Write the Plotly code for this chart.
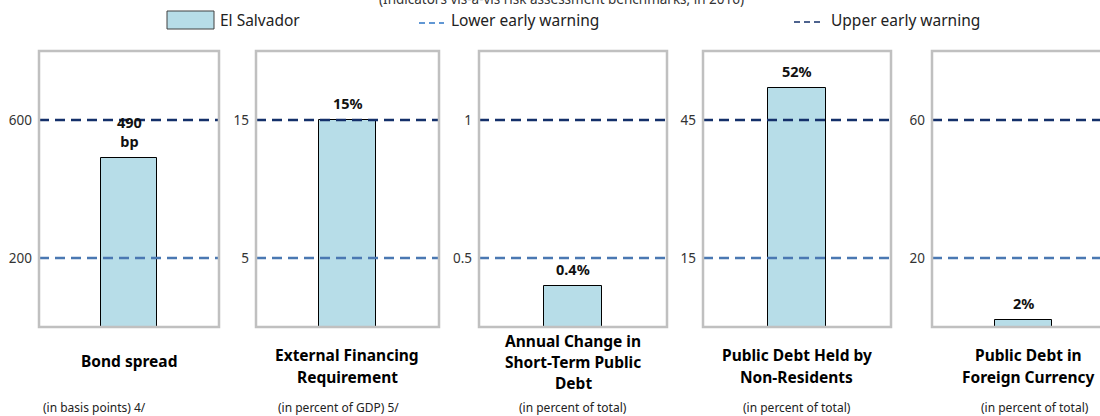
import plotly.graph_objects as go

# ---- data ----
title_lines = [
    ["Bond spread"],
    ["External Financing", "Requirement"],
    ["Annual Change in", "Short-Term Public", "Debt"],
    ["Public Debt Held by", "Non-Residents"],
    ["Public Debt in", "Foreign Currency"],
]
unit_labels = [
    "(in basis points) 4/",
    "(in percent of GDP) 5/",
    "(in percent of total)",
    "(in percent of total)",
    "(in percent of total)",
]
values = [490, 15, 0.4, 52, 2]
value_labels = ["490<br>bp", "15%", "0.4%", "52%", "2%"]
lower_warning = [200, 5, 0.5, 15, 20]
upper_warning = [600, 15, 1, 45, 60]
y_ranges = [(0, 800), (0, 20), (0.25, 1.25), (0, 60), (0, 80)]
tick_text = [["200", "600"], ["5", "15"], ["0.5", "1"], ["15", "45"], ["20", "60"]]

# ---- layout constants (pixels) ----
W, H = 1100, 416
panel_x = [(39, 219), (256, 439), (479, 667), (703, 891), (932, 1115)]
panel_top, panel_bottom = 51, 327
title_x = [129, 347, 573, 797, 1028]
unit_x = [94, 338, 573, 797, 1035]

FONT = "Noto Sans"
BAR_FILL = "#B7DDE8"
UPPER = "#14306A"
LOWER = "#4A78B2"
FRAME = "#C0C0C0"


def px(x):
    return x / W


def py(y):
    return 1 - y / H


fig = go.Figure()
shapes = []
annotations = []

for i in range(5):
    n = "" if i == 0 else str(i + 1)
    xa, ya = "x" + n, "y" + n
    left, right = panel_x[i]
    full_w = right - left
    vis_right = min(right, W)
    x_max = (vis_right - left) / full_w

    # bar
    fig.add_trace(go.Bar(
        x=[0.5], y=[values[i]], width=0.31,
        marker=dict(color=BAR_FILL, line=dict(color="#000000", width=1)),
        xaxis=xa, yaxis=ya, showlegend=False, hoverinfo="skip",
    ))
    # early warning thresholds
    fig.add_trace(go.Scatter(
        x=[0, 1], y=[lower_warning[i]] * 2, mode="lines",
        line=dict(color=LOWER, width=2.5, dash="10px,6px"),
        xaxis=xa, yaxis=ya, showlegend=False, hoverinfo="skip",
    ))
    fig.add_trace(go.Scatter(
        x=[0, 1], y=[upper_warning[i]] * 2, mode="lines",
        line=dict(color=UPPER, width=2.5, dash="10px,6px"),
        xaxis=xa, yaxis=ya, showlegend=False, hoverinfo="skip",
    ))

    fig.layout["xaxis" + n] = dict(
        domain=[px(left), px(vis_right)], range=[0, x_max],
        showgrid=False, zeroline=False, showticklabels=False,
        fixedrange=True, anchor=ya,
    )
    fig.layout["yaxis" + n] = dict(
        domain=[py(panel_bottom), py(panel_top)], range=list(y_ranges[i]),
        showgrid=False, zeroline=False,
        tickmode="array",
        tickvals=[lower_warning[i], upper_warning[i]],
        ticktext=tick_text[i],
        tickfont=dict(family=FONT, size=13.5, color="#333333"),
        ticks="", ticklabelstandoff=6,
        fixedrange=True, anchor=xa,
    )

    # panel frame
    shapes.append(dict(
        type="rect", xref="paper", yref="paper",
        x0=px(left), x1=px(right), y0=py(panel_bottom), y1=py(panel_top),
        line=dict(color=FRAME, width=2.5), layer="above",
    ))

    # value label above bar
    annotations.append(dict(
        xref=xa, yref=ya, x=0.5, y=values[i], text="<b>" + value_labels[i] + "</b>",
        showarrow=False, yanchor="bottom", yshift=5,
        font=dict(family=FONT, size=14.5, color="#111111"),
    ))

    # panel title lines
    lines = title_lines[i]
    if len(lines) == 1:
        ys = [361]
    elif len(lines) == 2:
        ys = [355, 377]
    else:
        ys = [341, 362, 383]
    for line, yy in zip(lines, ys):
        annotations.append(dict(
            xref="paper", yref="paper", x=px(title_x[i]), y=py(yy),
            text="<b>" + line + "</b>", showarrow=False,
            xanchor="center", yanchor="middle",
            font=dict(family=FONT, size=15.5, color="#000000"),
        ))
    annotations.append(dict(
        xref="paper", yref="paper", x=px(unit_x[i]), y=py(407),
        text=unit_labels[i], showarrow=False,
        xanchor="center", yanchor="middle",
        font=dict(family=FONT, size=12, color="#222222"),
    ))

# top subtitle (runs past the top edge of the page)
annotations.append(dict(
    xref="paper", yref="paper", x=px(561), y=py(-1),
    text="(Indicators vis-à-vis risk assessment benchmarks, in 2016)",
    showarrow=False, xanchor="center", yanchor="middle",
    font=dict(family=FONT, size=13.5, color="#333333"),
))

# legend
shapes.append(dict(
    type="rect", xref="paper", yref="paper",
    x0=px(167), x1=px(214), y0=py(29), y1=py(11),
    fillcolor=BAR_FILL, line=dict(color="#404040", width=1),
))
annotations.append(dict(
    xref="paper", yref="paper", x=px(218), y=py(20), text="El Salvador",
    showarrow=False, xanchor="left", yanchor="middle",
    font=dict(family=FONT, size=15.5, color="#222222"),
))
shapes.append(dict(
    type="line", xref="paper", yref="paper",
    x0=px(419), x1=px(444), y0=py(23), y1=py(23),
    line=dict(color="#2E75C6", width=1.5, dash="6px,4px"),
))
annotations.append(dict(
    xref="paper", yref="paper", x=px(449), y=py(20), text="Lower early warning",
    showarrow=False, xanchor="left", yanchor="middle",
    font=dict(family=FONT, size=15.5, color="#222222"),
))
shapes.append(dict(
    type="line", xref="paper", yref="paper",
    x0=px(794), x1=px(822), y0=py(22), y1=py(22),
    line=dict(color=UPPER, width=1.5, dash="6px,4px"),
))
annotations.append(dict(
    xref="paper", yref="paper", x=px(829), y=py(20), text="Upper early warning",
    showarrow=False, xanchor="left", yanchor="middle",
    font=dict(family=FONT, size=15.5, color="#222222"),
))

fig.update_layout(
    width=W, height=H,
    margin=dict(l=0, r=0, t=0, b=0),
    paper_bgcolor="white", plot_bgcolor="white",
    font=dict(family=FONT),
    shapes=shapes, annotations=annotations,
    showlegend=False, bargap=0,
)

fig.write_html("out.html", config={"displayModeBar": False})
